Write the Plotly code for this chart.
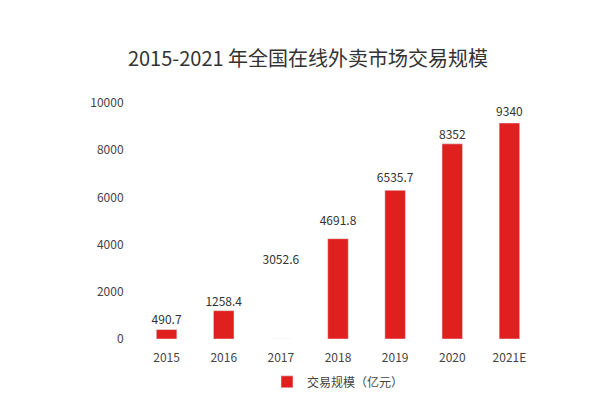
import plotly.graph_objects as go

years = ["2015", "2016", "2017", "2018", "2019", "2020", "2021E"]
bar_heights = [400, 1200, 0, 4250, 6300, 8270, 9150]
label_values = [490.7, 1258.4, 3052.6, 4691.8, 6535.7, 8352, 9340]
label_text = ["490.7", "1258.4", "3052.6", "4691.8", "6535.7", "8352", "9340"]

fig = go.Figure()
fig.add_trace(go.Bar(x=years, y=bar_heights, name="交易规模（亿元）",
                     marker=dict(color="#e0201f"), width=0.36))
fig.add_trace(go.Scatter(x=years, y=label_values, mode="text", text=label_text,
                         textposition="top center", showlegend=False,
                         textfont=dict(size=12, color="#333")))
fig.update_layout(
    width=600, height=400, paper_bgcolor="white", plot_bgcolor="white",
    font=dict(family="Noto Sans CJK SC", color="#444"),
    title=dict(text="2015-2021 年全国在线外卖市场交易规模", x=0.5, y=0.89,
               xanchor="center", font=dict(size=20, color="#333")),
    margin=dict(l=130, r=70, t=95, b=57),
    legend=dict(orientation="h", x=0.5, xanchor="center", y=-0.12, yanchor="top",
                font=dict(size=12), itemwidth=30),
    xaxis=dict(showline=False, showgrid=False, ticks="outside", ticklen=8,
               tickcolor="white", tickfont=dict(size=12)),
    yaxis=dict(range=[0, 10000], dtick=2000, showgrid=False, zeroline=False,
               showline=False, tickfont=dict(size=12), tickformat="d",
               ticksuffix="     "),
)
fig.write_html("out.html")
